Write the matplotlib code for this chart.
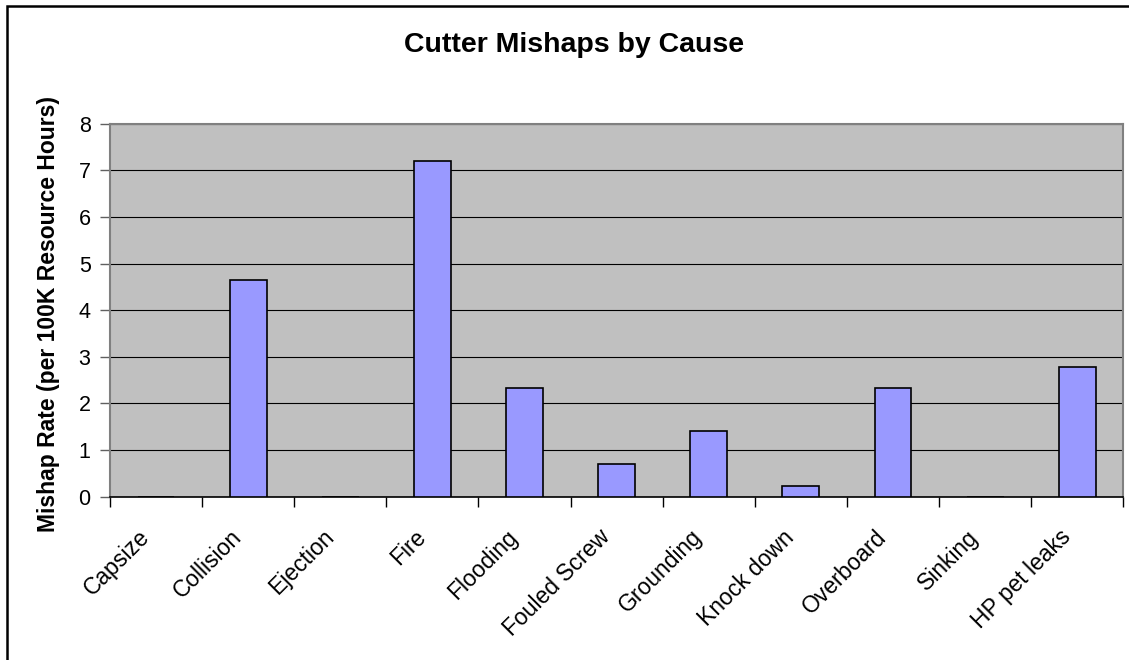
import matplotlib
matplotlib.use("Agg")
import matplotlib.pyplot as plt
import matplotlib.transforms as mtransforms
from matplotlib.patches import Rectangle
import numpy as np

plt.rcParams['font.family'] = ['Liberation Sans', 'DejaVu Sans']

causes = ["Capsize", "Collision", "Ejection", "Fire", "Flooding", "Fouled Screw",
          "Grounding", "Knock down", "Overboard", "Sinking", "HP pet leaks"]
rates = [0, 4.65, 0, 7.2, 2.33, 0.7, 1.4, 0.23, 2.33, 0, 2.79]
y_ticks = [0, 1, 2, 3, 4, 5, 6, 7, 8]

W, H = 1129, 660
fig = plt.figure(figsize=(W / 100, H / 100), dpi=100)
fig.patch.set_facecolor("white")

# outer chart frame
fig.patches.append(Rectangle((7 / W, -0.1), 1.2, 1 - 6 / H + 0.1,
                             transform=fig.transFigure, fill=False,
                             edgecolor="black", linewidth=1.8))

ax = fig.add_axes([110 / W, 1 - 496.7 / H, (1123.3 - 110) / W, (496.7 - 123.7) / H])
ax.set_facecolor("#C0C0C0")

x = np.arange(len(causes)) + 0.5
ax.bar(x, rates, width=0.4, color="#9999FF", edgecolor="black", linewidth=1.2, zorder=3)

ax.set_xlim(0, len(causes))
ax.set_ylim(0, 8)
ax.set_yticks(y_ticks)
ax.yaxis.grid(True, color="black", linewidth=0.8, zorder=1)
ax.set_axisbelow(True)

ax.set_xticks(np.arange(len(causes) + 1))
ax.set_xticklabels([])
ax.set_xticks(x, minor=True)
ax.set_xticklabels(causes, minor=True, rotation=45, ha="right", va="center",
                   rotation_mode="anchor", fontsize=16.5)
ax.tick_params(axis="x", which="minor", length=0, pad=0)
ax.tick_params(axis="x", which="major", length=7, width=1, color="black", direction="out")
ax.tick_params(axis="y", length=7, width=1, color="#606060", labelsize=15.5, pad=7)

off = mtransforms.ScaledTranslation(-10 / 100, -37 / 100, fig.dpi_scale_trans)
for lbl in ax.get_xticklabels(minor=True):
    lbl.set_transform(lbl.get_transform() + off)

for side in ("top", "right", "left"):
    ax.spines[side].set_color("#808080")
    ax.spines[side].set_linewidth(1.5)
ax.spines["bottom"].set_color("black")
ax.spines["bottom"].set_linewidth(1.2)

ax.set_ylabel("Mishap Rate (per 100K Resource Hours)", fontsize=16.5, fontweight="bold")
ax.yaxis.set_label_coords((60 - 110) / (1123.3 - 110), 0.49)
fig.text(574 / W, 1 - 45 / H, "Cutter Mishaps by Cause", ha="center", va="center",
         fontsize=20.5, fontweight="bold")

fig.savefig("out.png", dpi=100)
